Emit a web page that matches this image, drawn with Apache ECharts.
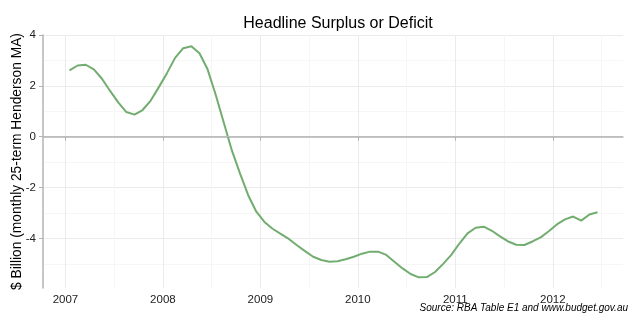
<!DOCTYPE html>
<html>
<head>
<meta charset="utf-8">
<script src="https://cdn.jsdelivr.net/npm/echarts@6/dist/echarts.min.js"></script>
<style>html,body{margin:0;padding:0;background:#fff}#c{width:640px;height:320px}</style>
</head>
<body>
<div id="c"></div>
<script>
// Monthly observations, Jan 2007 .. Jun 2012
var months = [
 '2007-01','2007-02','2007-03','2007-04','2007-05','2007-06','2007-07','2007-08','2007-09','2007-10','2007-11','2007-12',
 '2008-01','2008-02','2008-03','2008-04','2008-05','2008-06','2008-07','2008-08','2008-09','2008-10','2008-11','2008-12',
 '2009-01','2009-02','2009-03','2009-04','2009-05','2009-06','2009-07','2009-08','2009-09','2009-10','2009-11','2009-12',
 '2010-01','2010-02','2010-03','2010-04','2010-05','2010-06','2010-07','2010-08','2010-09','2010-10','2010-11','2010-12',
 '2011-01','2011-02','2011-03','2011-04','2011-05','2011-06','2011-07','2011-08','2011-09','2011-10','2011-11','2011-12',
 '2012-01','2012-02','2012-03','2012-04','2012-05','2012-06'
];
var surplus = [
 2.61, 2.80, 2.83, 2.65, 2.28, 1.80, 1.35, 0.97, 0.87, 1.05, 1.42, 1.95,
 2.50, 3.10, 3.48, 3.56, 3.28, 2.65, 1.65, 0.55, -0.55, -1.45, -2.30, -2.95,
 -3.35, -3.62, -3.82, -4.02, -4.27, -4.50, -4.72, -4.85, -4.92, -4.90, -4.82, -4.72,
 -4.60, -4.52, -4.52, -4.65, -4.92, -5.18, -5.40, -5.53, -5.52, -5.32, -5.00, -4.65,
 -4.20, -3.80, -3.58, -3.54, -3.70, -3.92, -4.12, -4.25, -4.26, -4.12, -3.96, -3.72,
 -3.45, -3.25, -3.14, -3.30, -3.06, -2.97
];
var xTicks = [2007, 2008, 2009, 2010, 2011, 2012];
var yTicks = [-4, -2, 0, 2, 4];

var titleText = 'Headline Surplus or Deficit';
var yName = '$ Billion (monthly 25-term Henderson MA)';
var sourceText = 'Source: RBA Table E1 and www.budget.gov.au';

var data = months.map(function (m, i) {
  var p = m.split('-');
  return [Number(p[0]) + (Number(p[1]) - 0.5) / 12, surplus[i]];
});

var chart = echarts.init(document.getElementById('c'), null, {renderer: 'canvas'});
var font = 'Liberation Sans, Arial, sans-serif';
chart.setOption({
  animation: false,
  backgroundColor: '#ffffff',
  title: [{
    text: titleText, left: 333, top: 11, textAlign: 'center',
    textStyle: {fontFamily: font, fontSize: 16, fontWeight: 'normal', color: '#000'}
  }, {
    text: sourceText, right: 7, bottom: 2,
    textStyle: {fontFamily: font, fontSize: 10, fontStyle: 'italic', fontWeight: 'normal', color: '#000'}
  }],
  grid: {left: 43, right: 17, top: 35, bottom: 32, containLabel: false, outerBoundsMode: 'none'},
  xAxis: {
    type: 'value', min: 2006.77, max: 2012.72,
    axisLine: {show: true, lineStyle: {color: '#b3b3b3', width: 1.5}},
    axisTick: {show: true, customValues: xTicks, length: 4, lineStyle: {color: '#b3b3b3'}},
    axisLabel: {customValues: xTicks, color: '#222', fontFamily: font, fontSize: 11.5, margin: 6, formatter: function (v) { return String(Math.round(v)); }},
    splitLine: {show: true, lineStyle: {color: '#ebebeb', width: 1}},
    minorTick: {show: false, splitNumber: 2},
    minorSplitLine: {show: true, lineStyle: {color: '#f6f6f6', width: 1}}
  },
  yAxis: {
    type: 'value', min: -5.95, max: 4,
    name: yName, nameLocation: 'middle', nameGap: 19, nameRotate: 90, nameMoveOverlap: false,
    nameTextStyle: {fontFamily: font, fontSize: 13.8, color: '#000'},
    axisLine: {show: true, lineStyle: {color: '#b3b3b3', width: 1.5}},
    axisTick: {show: true, customValues: yTicks, length: 4, lineStyle: {color: '#b3b3b3'}},
    axisLabel: {customValues: yTicks, color: '#222', fontFamily: font, fontSize: 11.5, margin: 7},
    splitLine: {show: true, lineStyle: {color: '#ebebeb', width: 1}},
    minorTick: {show: false, splitNumber: 2},
    minorSplitLine: {show: true, lineStyle: {color: '#f6f6f6', width: 1}}
  },
  series: [{
    type: 'line', data: data, showSymbol: false, symbol: 'none', smooth: false,
    lineStyle: {color: '#72ad70', width: 2},
    z: 3,
    markLine: {
      silent: true, symbol: 'none', label: {show: false},
      lineStyle: {color: '#bdbdbd', width: 1.2, type: 'solid'},
      data: [{yAxis: 0}]
    }
  }]
});
</script>
</body>
</html>
